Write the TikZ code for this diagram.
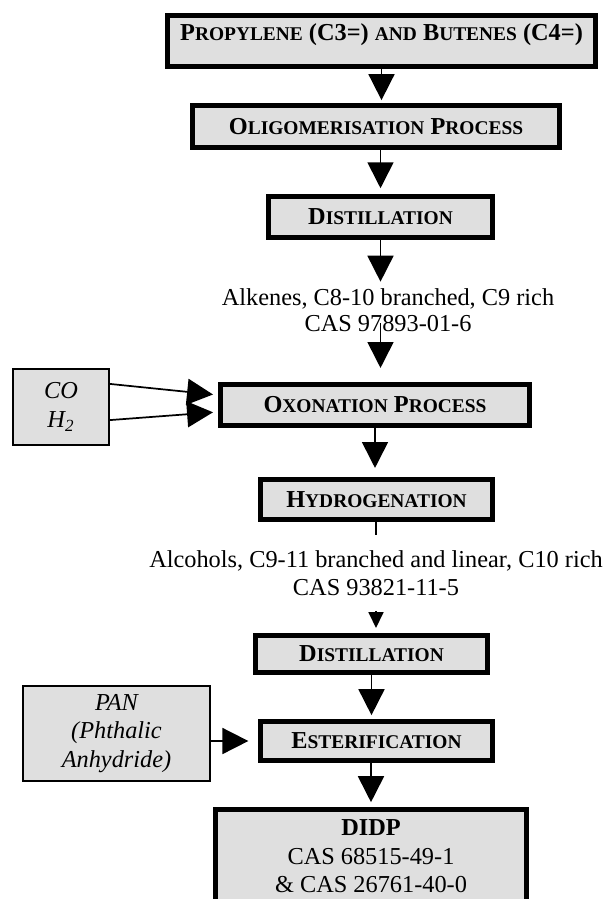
\documentclass[tikz,border=0pt]{standalone}
\usepackage{fontspec}
\setmainfont{Liberation Serif}
\usetikzlibrary{arrows.meta,calc}
\definecolor{boxgray}{RGB}{223,223,223}
\newdimen\pxu \pxu=0.52pt
\newcommand{\smcap}[1]{{\fontsize{10.1}{12}\selectfont #1}}
\begin{document}
\begin{tikzpicture}[x=0.52pt,y=-0.52pt,
  font=\fontsize{12.65}{14.5}\selectfont,
  stage/.style={draw,line width=2.6pt,fill=boxgray,inner sep=0pt,
    font=\fontsize{12.65}{14.5}\selectfont\bfseries},
  feed/.style={draw,line width=1pt,fill=boxgray,inner sep=0pt,align=center,
    font=\fontsize{12.65}{15}\selectfont\itshape},
  flow/.style={line width=0.9pt,-{Triangle[length=13.5pt,width=13.5pt]}},
  ]
%\draw[help lines, color=gray!30, dashed, step=50] (0,0) grid (613,899);
\useasboundingbox (0,0) rectangle (613,899);
\node[stage,minimum width=428\pxu,minimum height=51\pxu,text depth=9.5pt] (feedstock) at (381.5,41) {P\smcap{ROPYLENE} (C3=) \smcap{AND} B\smcap{UTENES} (C4=)};
\node[stage,minimum width=367\pxu,minimum height=42\pxu] (oligo) at (376,126.5) {O\smcap{LIGOMERISATION} P\smcap{ROCESS}};
\node[stage,minimum width=224\pxu,minimum height=41\pxu] (dist1) at (380.5,217) {D\smcap{ISTILLATION}};
\node[align=center,font=\fontsize{12.65}{13.5}\selectfont] (alkenes) at (388,310) {Alkenes, C8-10 branched, C9 rich\\CAS 97893-01-6};
\node[stage,minimum width=309\pxu,minimum height=41\pxu] (oxo) at (375,405) {O\smcap{XONATION} P\smcap{ROCESS}};
\node[feed,minimum width=96\pxu,minimum height=76\pxu] (syngas) at (61,407) {CO\\H\textsubscript{2}};
\node[stage,minimum width=232\pxu,minimum height=40\pxu] (hydro) at (376.5,499.5) {H\smcap{YDROGENATION}};
\node[align=center,fill=white,inner sep=0pt,minimum height=75\pxu] (alcohols) at (376,573) {Alcohols, C9-11 branched and linear, C10 rich\\CAS 93821-11-5};
\node[stage,minimum width=232\pxu,minimum height=37\pxu] (dist2) at (371.5,654) {D\smcap{ISTILLATION}};
\node[stage,minimum width=232\pxu,minimum height=39\pxu] (ester) at (376.5,741) {E\smcap{STERIFICATION}};
\node[feed,minimum width=187\pxu,minimum height=95\pxu] (anhydride) at (116.5,733.5) {PAN\\(Phthalic\\Anhydride)};
\node[stage,font=\fontsize{12.65}{14.8}\selectfont,align=center,minimum width=311\pxu,minimum height=94\pxu] (didp) at (371,856.5) {\textbf{DIDP}\\CAS 68515-49-1\\\& CAS 26761-40-0};
\draw[flow,shorten >=1.5pt] (feedstock.south) -- (feedstock.south |- oligo.north);
\draw[flow,shorten >=3pt] (dist1.north |- oligo.south) -- (dist1.north);
\draw[flow] (dist1.south) -- (dist1.south |- alkenes.north);
\draw[flow,shorten >=7.3pt] ($(dist1.south |- alkenes.south)+(0,-15)$) -- (dist1.south |- oxo.north);
\draw[flow,shorten >=2.6pt] ([yshift=12pt]syngas.east) -- ([yshift=5.2pt]oxo.west);
\draw[flow,shorten >=2.6pt] ([yshift=-6.8pt]syngas.east) -- ([yshift=-3.6pt]oxo.west);
\draw[flow,shorten >=4.7pt] (oxo.south) -- (oxo.south |- hydro.north);
\draw[line width=0.9pt] (alcohols.north |- hydro.south) -- (alcohols.north);
\draw[line width=0.9pt,-{Triangle[length=8.3pt,width=7.8pt]},shorten >=2.6pt] (alcohols.south) -- (alcohols.south |- dist2.north);
\draw[flow,shorten >=2pt] (dist2.south) -- (dist2.south |- ester.north);
\draw[flow,shorten >=5pt] (anhydride.east |- ester.west) -- (ester.west);
\draw[flow,shorten >=2.5pt] (didp.north |- ester.south) -- (didp.north);
\end{tikzpicture}
\end{document}
